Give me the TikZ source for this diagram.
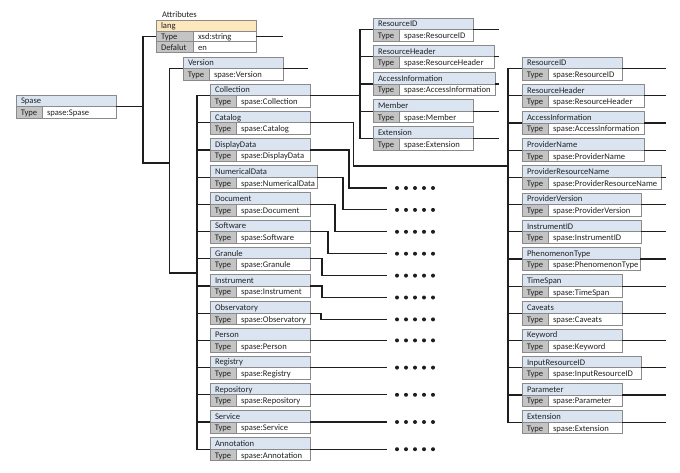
\documentclass[tikz,border=0pt]{standalone}
\usepackage{fontspec}
\setmainfont{Carlito}
\definecolor{hdrc}{HTML}{DBE5F1}
\definecolor{grc}{HTML}{C4C4C4}
\definecolor{bdc}{HTML}{8A8A8A}
\definecolor{langc}{HTML}{FCE8BC}
\definecolor{lnc}{HTML}{1E1E1E}
\definecolor{txc}{HTML}{222222}
\tikzset{
  cell/.style={draw=bdc, line width=0.8pt, inner xsep=5pt, inner ysep=0pt, outer sep=0pt,
    minimum height=11.6pt, text height=7.2pt, text depth=1.2pt,
    font=\fontsize{8.6}{10}\selectfont, text=txc, anchor=north west},
  hdr/.style={cell, fill=hdrc},
  typ/.style={cell, fill=grc, minimum width=26pt, inner xsep=0pt},
  val/.style={cell, fill=white},
  arow/.style={cell, minimum height=10.6pt},
  conn/.style={draw=lnc, line width=1.1pt},
}
\newcommand\tbx[6]{%
  \pgfmathsetmacro\tbw{#4-10}%
  \pgfmathsetmacro\tbv{#4-36}%
  \node[hdr, text width=\tbw pt] (#1) at (#2,#3) {\mbox{#5}};
  \node[typ] (#1-t) at (#1.south west) {Type};
  \node[val, text width=\tbv pt] (#1-v) at (#1-t.north east) {\mbox{#6}};
}
\begin{document}
\begin{tikzpicture}[x=1pt,y=-1pt]
\fill[white] (0,0) rectangle (680,472);
\useasboundingbox (0,0) rectangle (680,472);

% ---------- root ----------
\tbx{spase}{16}{95}{100}{Spase}{spase:Spase}

% ---------- attributes ----------
\node[font=\fontsize{8.6}{10}\selectfont, text=txc, anchor=west, inner sep=0pt] (attrlbl) at (162,14.5) {Attributes};
\node[arow, fill=langc, text width=90pt] (lang) at (156,20.5) {lang};
\node[arow, fill=grc, text width=27pt] (lang-t) at (lang.south west) {Type};
\node[arow, fill=white, text width=53pt] (lang-v) at (lang-t.north east) {xsd:string};
\node[arow, fill=grc, text width=27pt] (lang-d) at (lang-t.south west) {Defalut};
\node[arow, fill=white, text width=53pt] (lang-dv) at (lang-d.north east) {en};

% ---------- version ----------
\tbx{version}{183}{57}{100}{Version}{spase:Version}

% ---------- left column ----------
\tbx{collection}{210}{84}{100}{Collection}{spase:Collection}
\tbx{catalog}{210}{111.2}{100}{Catalog}{spase:Catalog}
\tbx{displaydata}{210}{138.4}{100}{DisplayData}{spase:DisplayData}
\tbx{numericaldata}{210}{165.6}{107}{NumericalData}{spase:NumericalData}
\tbx{document}{210}{192.8}{100}{Document}{spase:Document}
\tbx{software}{210}{220}{100}{Software}{spase:Software}
\tbx{granule}{210}{247.2}{100}{Granule}{spase:Granule}
\tbx{instrument}{210}{274.4}{100}{Instrument}{spase:Instrument}
\tbx{observatory}{210}{301.6}{100}{Observatory}{spase:Observatory}
\tbx{person}{210}{328.8}{100}{Person}{spase:Person}
\tbx{registry}{210}{356}{100}{Registry}{spase:Registry}
\tbx{repository}{210}{383.2}{100}{Repository}{spase:Repository}
\tbx{service}{210}{410.4}{100}{Service}{spase:Service}
\tbx{annotation}{210}{437.6}{100}{Annotation}{spase:Annotation}

% ---------- collection children ----------
\tbx{ma}{373}{18}{100}{ResourceID}{spase:ResourceID}
\tbx{mb}{373}{45.2}{121}{ResourceHeader}{spase:ResourceHeader}
\tbx{mc}{373}{72.4}{122}{AccessInformation}{spase:AccessInformation}
\tbx{md}{373}{99.6}{100}{Member}{spase:Member}
\tbx{me}{373}{126.8}{100}{Extension}{spase:Extension}

% ---------- catalog children ----------
\tbx{ra}{522}{57}{100}{ResourceID}{spase:ResourceID}
\tbx{rb}{522}{84.2}{122}{ResourceHeader}{spase:ResourceHeader}
\tbx{rc}{522}{111.4}{122}{AccessInformation}{spase:AccessInformation}
\tbx{rd}{522}{138.6}{122}{ProviderName}{spase:ProviderName}
\tbx{re}{522}{165.8}{139}{ProviderResourceName}{spase:ProviderResourceName}
\tbx{rf}{522}{193}{119}{ProviderVersion}{spase:ProviderVersion}
\tbx{rg}{522}{220.2}{119}{InstrumentID}{spase:InstrumentID}
\tbx{rh}{522}{247.4}{118}{PhenomenonType}{spase:PhenomenonType}
\tbx{ri}{522}{274.6}{100}{TimeSpan}{spase:TimeSpan}
\tbx{rj}{522}{301.8}{100}{Caveats}{spase:Caveats}
\tbx{rk}{522}{329}{100}{Keyword}{spase:Keyword}
\tbx{rl}{522}{356.2}{119}{InputResourceID}{spase:InputResourceID}
\tbx{rm}{522}{383.4}{100}{Parameter}{spase:Parameter}
\tbx{rn}{522}{410.6}{100}{Extension}{spase:Extension}

% ---------- spine coordinates ----------
\coordinate (sA) at (143,163);
\coordinate (sB) at (169.5,273);
\coordinate (sC) at (197,0);
\coordinate (sM) at (360,0);
\coordinate (sR) at (508,0);
\coordinate (kc) at (353.5,166);
\coordinate (endAttr) at (283,0);
\coordinate (endVer) at (308,0);
\coordinate (endM) at (499,0);
\coordinate (endR) at (666,0);
\coordinate (dX) at (387,0);

% root tree
\draw[conn] (spase.south east) -- (spase.south east -| sA);
\draw[conn] (lang-t.west) -| (sA) -- (sA -| sB);
\draw[conn] (version.south west) -| (sB) -- (sB -| sC);
\draw[conn] (collection.south west) -| (annotation.south west -| sC) -- (annotation.south west);
\foreach \n in {catalog,displaydata,numericaldata,document,software,granule,instrument,observatory,person,registry,repository,service}
  \draw[conn] (\n.south west) -- (\n.south west -| sC);

% free right ends
\draw[conn] (lang-v.east) -- (lang-v.east -| endAttr);
\draw[conn] (version.south east) -- (version.south east -| endVer);
\foreach \n in {ma,mb,mc,md,me}
  \draw[conn] (\n.south east) -- (\n.south east -| endM);
\foreach \n in {ra,rb,rc,rd,re,rf,rg,rh,ri,rj,rk,rl,rm,rn}
  \draw[conn] (\n.south east) -- (\n.south east -| endR);

% collection -> its children
\draw[conn] (ma.south west) -| (me.south west -| sM) -- (me.south west);
\foreach \n in {mb,mc,md}
  \draw[conn] (\n.south west) -- (\n.south west -| sM);
\draw[conn] (collection.south east) -- (collection.south east -| sM);

% catalog -> its children
\draw[conn] (ra.south west) -| (rn.south west -| sR) -- (rn.south west);
\foreach \n in {rb,rc,rd,re,rf,rg,rh,ri,rj,rk,rl,rm}
  \draw[conn] (\n.south west) -- (\n.south west -| sR);
\draw[conn] (catalog.south east) -| (kc) -- (kc -| sR);

% other elements -> dots
\coordinate (d1) at (387,188);
\coordinate (d2) at (387,209.9);
\coordinate (d3) at (387,231.8);
\coordinate (d4) at (387,253.7);
\coordinate (d5) at (387,275.6);
\coordinate (d6) at (387,297.5);
\coordinate (d7) at (387,319.4);
\coordinate (d8) at (person.south east -| dX);
\coordinate (d9) at (registry.south east -| dX);
\coordinate (d10) at (repository.south east -| dX);
\coordinate (d11) at (service.south east -| dX);
\coordinate (d12) at (annotation.south east -| dX);

\coordinate (e1) at (349,188);
\coordinate (e2) at (343,209.9);
\coordinate (e3) at (335,231.8);
\coordinate (e4) at (328,253.7);
\coordinate (e5) at (322,275.6);
\coordinate (e6) at (322,297.5);
\coordinate (e7) at (321,319.4);

\draw[conn] (displaydata.south east) -| (e1) -- (d1);
\draw[conn] (numericaldata.south east) -| (e2) -- (d2);
\draw[conn] (document.south east) -| (e3) -- (d3);
\draw[conn] (software.south east) -| (e4) -- (d4);
\draw[conn] (granule.south east) -| (e5) -- (d5);
\draw[conn] (instrument.south east) -| (e6) -- (d6);
\draw[conn] (observatory.south east) -| (e7) -- (d7);
\draw[conn] (person.south east) -- (d8);
\draw[conn] (registry.south east) -- (d9);
\draw[conn] (repository.south east) -- (d10);
\draw[conn] (service.south east) -- (d11);
\draw[conn] (annotation.south east) -- (d12);

\foreach \d in {d1,d2,d3,d4,d5,d6,d7,d8,d9,d10,d11,d12}
  \foreach \i in {0,...,4}
    \fill[lnc, shift={(\d)}] (10+9*\i,0) circle (2pt);
\end{tikzpicture}
\end{document}
